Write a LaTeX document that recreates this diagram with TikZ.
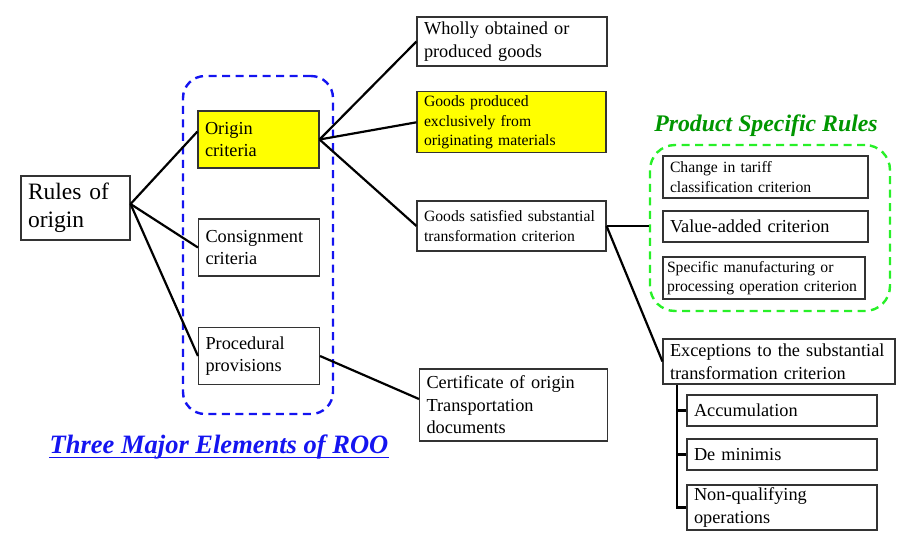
\documentclass[tikz,border=0pt]{standalone}
\usepackage{fontspec}
\setmainfont{Liberation Serif}
\newcommand\sizeL{\fontsize{23.5}{28}\selectfont}
\newcommand\sizeM{\fontsize{18.3}{22.5}\selectfont}
\newcommand\sizeS{\fontsize{15.7}{19.5}\selectfont}
\definecolor{boxyellow}{RGB}{255,255,0}
\definecolor{dashblue}{RGB}{20,20,240}
\definecolor{dashgreen}{RGB}{40,240,40}
\definecolor{titlegreen}{RGB}{0,150,0}
\tikzset{
  box/.style={draw=black!80, line width=1.1pt, inner xsep=7pt, inner ysep=0pt, align=left},
  link/.style={line width=2.2pt},
  group/.style={line width=2.4pt, dash pattern=on 8pt off 5.5pt},
}
\begin{document}
\begin{tikzpicture}[x=1pt, y=-1pt]
\useasboundingbox (0,0) rectangle (914,547);

% dashed groups
\node[group, draw=dashblue, rounded corners=22pt, minimum width=150pt, minimum height=338pt](tme) at (258,245){};
\node[group, draw=dashgreen, rounded corners=25pt, minimum width=240pt, minimum height=166pt](psb) at (770,228){};

\node[font=\fontsize{26.5}{30}\selectfont\bfseries\itshape, text=dashblue, inner sep=0pt, anchor=base](tmet) at (219,453){Three Major Elements of ROO};
\draw[dashblue, line width=1.6pt]([yshift=-4.5pt]tmet.base west)--([yshift=-4.5pt]tmet.base east);
\node[font=\fontsize{23.8}{28}\selectfont\bfseries\itshape, text=titlegreen, anchor=base](psbt) at (766,131.5){Product Specific Rules};

\node[box, font=\sizeL, text width=95pt, minimum height=64pt](ro) at (75.5,208){Rules of\\origin};
\coordinate (rojoint) at ([yshift=4pt]ro.east);

\node[box, fill=boxyellow, font=\sizeM, text width=107pt, minimum height=57pt](oc) at (258.5,139.5){Origin\\criteria};
\node[box, font=\sizeM, text width=107pt, minimum height=57pt](cc) at (259,247.5){Consignment\\criteria};
\node[box, font=\sizeM, text width=107pt, minimum height=57pt](pp) at (259,356){Procedural\\provisions};

\draw[link](rojoint)--([yshift=8pt]oc.west);
\draw[link](rojoint)--(cc.west);
\draw[link](rojoint)--(pp.west);

\node[box, font=\sizeM, text width=176pt, minimum height=49pt](wo) at (512,41.5){Wholly obtained or\\produced goods};
\node[box, fill=boxyellow, font=\sizeS, text width=175pt, minimum height=61pt](gp) at (511.5,122.3){Goods produced\\exclusively from\\originating materials};
\node[box, font=\sizeS, text width=175pt, minimum height=50pt](gs) at (511.5,226){Goods satisfied substantial\\transformation criterion};
\node[box, font=\sizeM, text width=174pt, minimum height=72pt](ce) at (513.5,405){Certificate of origin\\Transportation\\documents};

\draw[link](oc.east)--(wo.west);
\draw[link](oc.east)--(gp.west);
\draw[link](oc.east)--(gs.west);
\draw[link](pp.east)--([yshift=6pt]ce.west);

\node[box, font=\sizeS, text width=191pt, minimum height=42pt](ct) at (765.5,177){Change in tariff\\classification criterion};
\node[box, font=\sizeM, text width=191pt, minimum height=31pt](va) at (765.5,226.5){Value-added criterion};
\node[box, font=\sizeS, inner xsep=4pt, text width=194pt, minimum height=42pt](sm) at (764,278){Specific manufacturing or\\processing operation criterion};

\node[box, font=\sizeM, text width=218pt, minimum height=45pt](ex) at (779,361.5){Exceptions to the substantial\\transformation criterion};
\node[box, font=\sizeM, text width=176pt, minimum height=31pt](ac) at (782,410.5){Accumulation};
\node[box, font=\sizeM, text width=176pt, minimum height=31pt](dm) at (782,454.5){De minimis};
\node[box, font=\sizeM, text width=176pt, minimum height=45pt](nq) at (782,507.5){Non-qualifying\\operations};

\draw[link](gs.east)--(gs.east -| psb.west);
\draw[link](gs.east)--(ex.west);

\coordinate (bar) at (677,385);
\draw[link](bar) |- (nq.west);
\draw[link](ac.west -| bar)--(ac.west);
\draw[link](dm.west -| bar)--(dm.west);
\end{tikzpicture}
\end{document}
